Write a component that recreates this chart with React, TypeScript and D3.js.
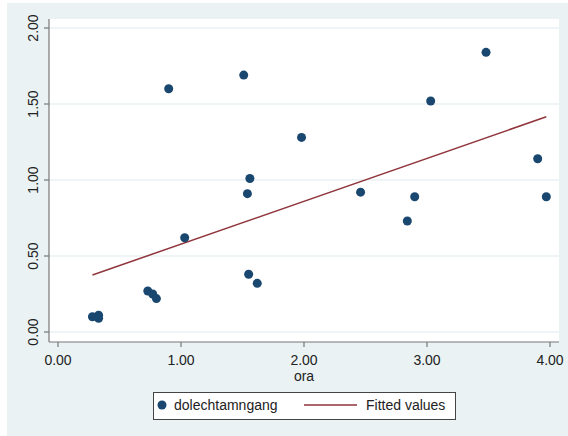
import React from "react";
import * as d3 from "d3";

const oraValues = [0.28, 0.33, 0.33, 0.73, 0.77, 0.80, 0.90, 1.03, 1.51, 1.54, 1.56, 1.55, 1.62, 1.98, 2.46, 2.84, 2.90, 3.03, 3.48, 3.90, 3.97];
const dolechValues = [0.10, 0.11, 0.09, 0.27, 0.25, 0.22, 1.60, 0.62, 1.69, 0.91, 1.01, 0.38, 0.32, 1.28, 0.92, 0.73, 0.89, 1.52, 1.84, 1.14, 0.89];
const fitX = [0.28, 3.97];
const fitY = [0.375, 1.416];
const xTicks = [0, 1, 2, 3, 4];
const yTicks = [0, 0.5, 1, 1.5, 2];
const xLabel = "ora";
const legendLabels = ["dolechtamngang", "Fitted values"];

const W = 568, H = 436;
const BG = "#eaf2f3";
const NAVY = "#1a476f";
const MAROON = "#90353b";
const FONT = "'Liberation Sans', Arial, sans-serif";

export default function App() {
  const x = d3.scaleLinear().domain([0, 4]).range([58, 550]);
  const y = d3.scaleLinear().domain([0, 2]).range([332, 28]);
  const line = d3.line<number>().x((d, i) => x(fitX[i])).y((d, i) => y(fitY[i]));
  const plot = { x0: 49, x1: 559, y0: 19, y1: 342 };
  return (
    <svg width={W} height={H} style={{ position: "absolute", left: 0, top: 0 }} fontFamily={FONT}>
      <rect x={7} y={3} width={W - 7} height={H - 3} fill={BG} />
      <rect x={plot.x0} y={plot.y0} width={plot.x1 - plot.x0} height={plot.y1 - plot.y0} fill="#fff" />
      {yTicks.map((t) => (
        <line key={"g" + t} x1={plot.x0} x2={plot.x1} y1={y(t)} y2={y(t)} stroke={BG} strokeWidth={1.5} />
      ))}
      <line x1={plot.x0} x2={plot.x0} y1={plot.y0} y2={plot.y1} stroke="#777" strokeWidth={1.2} />
      <line x1={plot.x0} x2={plot.x1} y1={plot.y1} y2={plot.y1} stroke="#777" strokeWidth={1.2} />
      {yTicks.map((t) => (
        <g key={"y" + t}>
          <line x1={44} x2={plot.x0} y1={y(t)} y2={y(t)} stroke="#777" strokeWidth={1.2} />
          <text transform={`translate(38,${y(t)}) rotate(-90)`} textAnchor="middle" fontSize={14} fill="#222">
            {t.toFixed(2)}
          </text>
        </g>
      ))}
      {xTicks.map((t) => (
        <g key={"x" + t}>
          <line x1={x(t)} x2={x(t)} y1={plot.y1} y2={plot.y1 + 5} stroke="#777" strokeWidth={1.2} />
          <text x={x(t)} y={365} textAnchor="middle" fontSize={14} fill="#222">
            {t.toFixed(2)}
          </text>
        </g>
      ))}
      <text x={x(2)} y={381} textAnchor="middle" fontSize={14} fill="#222">{xLabel}</text>
      <path d={line(fitX) || ""} stroke={MAROON} strokeWidth={1.5} fill="none" />
      {oraValues.map((v, i) => (
        <circle key={i} cx={x(v)} cy={y(dolechValues[i])} r={4.5} fill={NAVY} />
      ))}
      <rect x={153.5} y={392.5} width={302} height={27} fill="#fff" stroke="#444" strokeWidth={1} />
      <circle cx={162} cy={405} r={4.5} fill={NAVY} />
      <text x={174} y={410} fontSize={14} fill="#222">{legendLabels[0]}</text>
      <line x1={304} x2={357} y1={405} y2={405} stroke={MAROON} strokeWidth={1.5} />
      <text x={366} y={410} fontSize={14} fill="#222">{legendLabels[1]}</text>
    </svg>
  );
}
